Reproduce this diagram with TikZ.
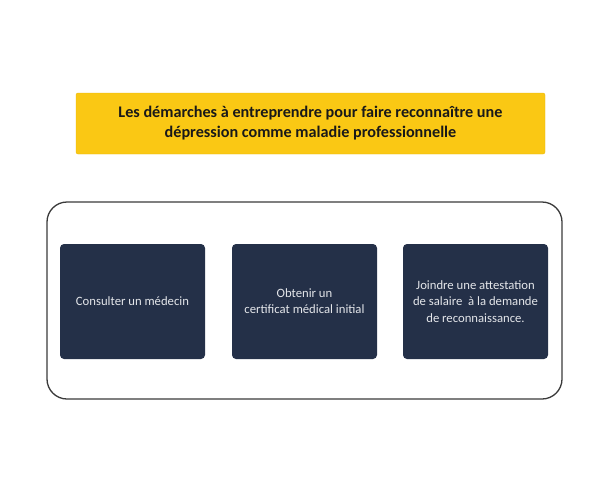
\documentclass[tikz,border=0pt]{standalone}
\usepackage{fontspec}
\setmainfont{Carlito}
\usepackage{xcolor}
\usetikzlibrary{positioning,calc}
\definecolor{titleyellow}{HTML}{FAC814}
\definecolor{titleedge}{HTML}{E9B80C}
\definecolor{stepnavy}{HTML}{243048}
\definecolor{steptext}{HTML}{E4E6EA}
\definecolor{frameedge}{HTML}{3A3A3A}

\begin{document}
\begin{tikzpicture}[x=1pt, y=1pt,
    titlebox/.style={draw=titleedge, fill=titleyellow, rounded corners=2pt, minimum width=469pt, minimum height=61pt, align=center, font=\fontsize{16.2}{20}\selectfont\bfseries, text=black!90},
    framebox/.style={draw=frameedge, line width=1.3pt, rounded corners=20pt, minimum width=515pt, minimum height=197pt},
    stepbox/.style={fill=stepnavy, rounded corners=4pt, minimum width=145pt, minimum height=115pt, align=center, text=steptext, font=\fontsize{12.7}{16.2}\selectfont}]
    \useasboundingbox (0,0) rectangle (600,-480);

    % Title
    \node[titlebox] (title) at (310.5,-123.5) {Les démarches à entreprendre pour faire reconnaître une\\dépression comme maladie professionnelle};

    % Frame
    \node[framebox] (frame) at (304.5,-300.5) {};

    % Steps
    \node[stepbox] (consult) at (132.5,-301.5) {Consulter un médecin};
    \node[stepbox] (certif) at (304.5,-301.5) {Obtenir un\\certificat médical initial};
    \node[stepbox] (joindre) at (475.5,-301.5) {Joindre une attestation\\de salaire\ \ à la demande\\de reconnaissance.};
\end{tikzpicture}
\end{document}
